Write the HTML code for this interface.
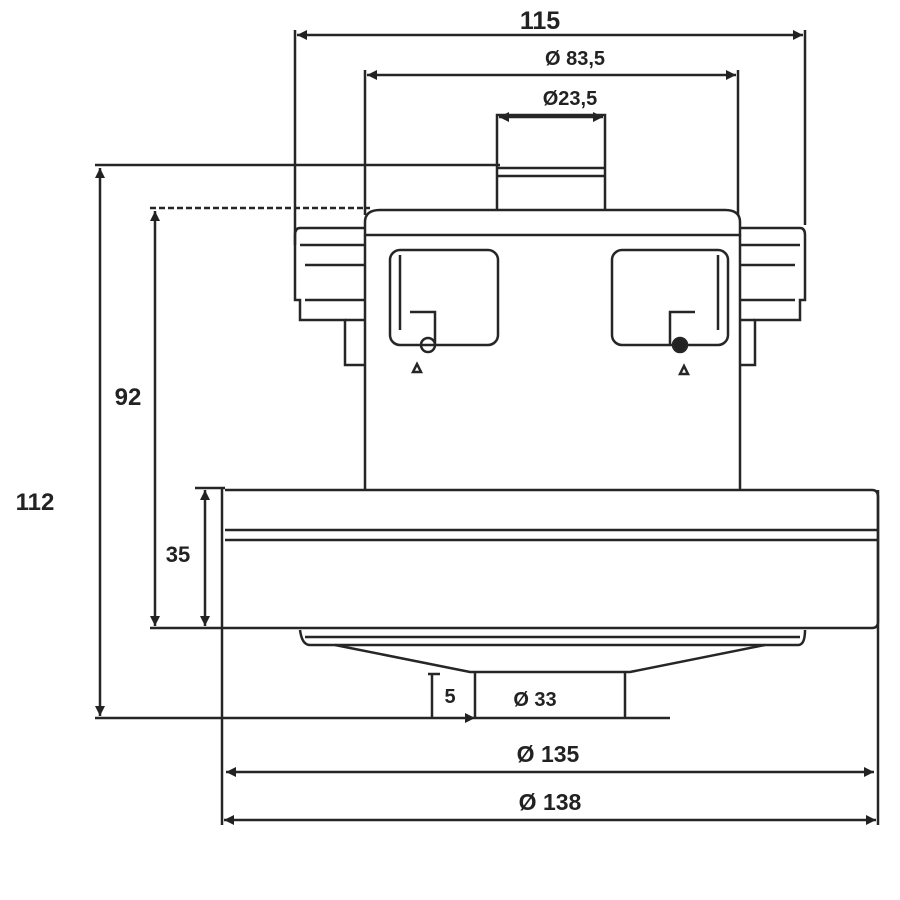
<!DOCTYPE html>
<html><head><meta charset="utf-8"><style>html,body{margin:0;padding:0;background:#fff}svg{display:block}</style></head>
<body>
<svg width="900" height="900" viewBox="0 0 900 900" xmlns="http://www.w3.org/2000/svg">
<defs>
<marker id="a" viewBox="0 0 10 10" refX="10" refY="5" markerWidth="6" markerHeight="4" orient="auto-start-reverse"><path d="M0,0 L10,5 L0,10 z" fill="#222"/></marker>
</defs>
<g stroke="#262626" stroke-width="2.5" fill="none">
<line x1="297" y1="35" x2="803" y2="35" marker-start="url(#a)" marker-end="url(#a)"/>
<line x1="295" y1="30" x2="295" y2="245"/><line x1="805" y1="30" x2="805" y2="225"/>
<line x1="367" y1="75" x2="736" y2="75" marker-start="url(#a)" marker-end="url(#a)"/>
<line x1="365" y1="70" x2="365" y2="215"/><line x1="738" y1="70" x2="738" y2="215"/>
<line x1="499" y1="117" x2="603" y2="117" marker-start="url(#a)" marker-end="url(#a)"/>
<line x1="95" y1="165" x2="500" y2="165"/>
<line x1="100" y1="168" x2="100" y2="716" marker-start="url(#a)" marker-end="url(#a)"/>
<line x1="95" y1="718" x2="455" y2="718"/>
<line x1="150" y1="208" x2="370" y2="208" stroke-dasharray="6,3"/>
<line x1="155" y1="211" x2="155" y2="626" marker-start="url(#a)" marker-end="url(#a)"/>
<line x1="150" y1="628" x2="225" y2="628"/>
<line x1="205" y1="490" x2="205" y2="626" marker-start="url(#a)" marker-end="url(#a)"/>
<line x1="195" y1="488" x2="225" y2="488"/>
<path d="M497,210 V115 H605 V210"/>
<line x1="497" y1="168" x2="605" y2="168"/><line x1="497" y1="176" x2="605" y2="176"/>
<path d="M365,235 V222 Q365,210 380,210 H725 Q740,210 740,222 V235 Z"/>
<path d="M365,228 H300 Q295,228 295,235 V300 H300 V320 H345 V365 H365"/>
<path d="M300,245 H365 M305,265 H365 M305,300 H365 M345,320 H365"/>
<path d="M740,228 H800 Q805,228 805,235 V300 H800 V320 H755 V365 H740"/>
<path d="M740,245 H800 M740,265 H795 M740,300 H795 M740,320 H755"/>
<path d="M365,235 V490 M740,235 V490"/>
<rect x="390" y="250" width="108" height="95" rx="10"/>
<path d="M400,255 V330 M410,312 H435 V345"/>
<circle cx="428" cy="345" r="7"/>
<rect x="612" y="250" width="116" height="95" rx="10"/>
<path d="M718,255 V330 M695,312 H670 V345"/>
<circle cx="680" cy="345" r="7" fill="#222"/>
<path d="M413,372 L417,364 L421,372 Z M680,374 L684,366 L688,374 Z"/>
<path d="M225,490 H872 Q878,490 878,497 V622 Q878,628 872,628 H225"/>
<line x1="225" y1="530" x2="878" y2="530"/><line x1="225" y1="540" x2="878" y2="540"/>
<line x1="222" y1="488" x2="222" y2="825"/><line x1="878" y1="490" x2="878" y2="825"/>
<path d="M300,630 Q302,645 310,645 H798 Q805,645 805,630"/>
<line x1="305" y1="637" x2="800" y2="637"/>
<path d="M335,645 L470,672 H630 L765,645"/>
<path d="M475,672 V718 M625,672 V718"/>
<path d="M432,674 V718 M428,674 H440" />
<line x1="455" y1="718" x2="475" y2="718" marker-end="url(#a)"/>
<line x1="475" y1="718" x2="670" y2="718"/>
<line x1="226" y1="772" x2="874" y2="772" marker-start="url(#a)" marker-end="url(#a)"/>
<line x1="224" y1="820" x2="876" y2="820" marker-start="url(#a)" marker-end="url(#a)"/>
</g>
<g font-family="Liberation Sans, sans-serif" font-weight="bold" fill="#222">
<text x="540" y="29" font-size="25" text-anchor="middle">115</text>
<text x="575" y="65" font-size="20" text-anchor="middle">Ø 83,5</text>
<text x="570" y="105" font-size="20" text-anchor="middle">Ø23,5</text>
<text x="35" y="510" font-size="24" text-anchor="middle">112</text>
<text x="128" y="405" font-size="24" text-anchor="middle">92</text>
<text x="178" y="562" font-size="22" text-anchor="middle">35</text>
<text x="450" y="703" font-size="20" text-anchor="middle">5</text>
<text x="535" y="706" font-size="20" text-anchor="middle">Ø 33</text>
<text x="548" y="762" font-size="23" text-anchor="middle">Ø 135</text>
<text x="550" y="810" font-size="23" text-anchor="middle">Ø  138</text>
</g>
</svg>
</body></html>
